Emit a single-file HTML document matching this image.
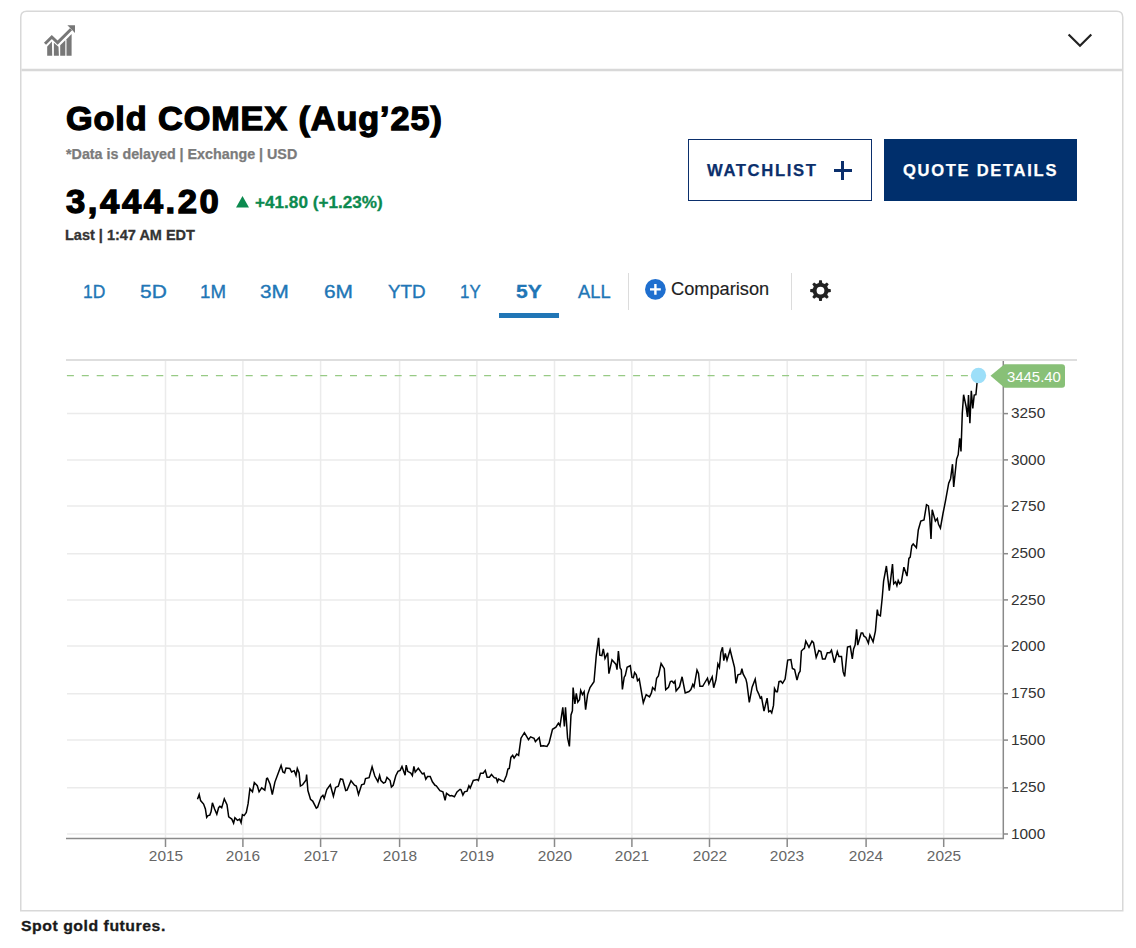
<!DOCTYPE html>
<html><head><meta charset="utf-8"><style>
html,body{margin:0;padding:0;background:#fff;width:1136px;height:948px;overflow:hidden;position:relative;font-family:"Liberation Sans", sans-serif;}
div{box-sizing:border-box;}
</style></head><body>
<svg style="position:absolute;left:0;top:0" width="1136" height="948"><path d="M20.75,910.75 L20.75,17.25 Q20.75,11.25 26.75,11.25 L1116.75,11.25 Q1122.75,11.25 1122.75,17.25 L1122.75,910.75 Z" fill="none" stroke="#d8d8d8" stroke-width="1.5"/><line x1="21.5" y1="70" x2="1122" y2="70" stroke="#d8d8d8" stroke-width="2.5"/></svg>
<svg style="position:absolute;left:0;top:0" width="1136" height="948">
<g fill="#777">
<path d="M47.2,46.5 L51.9,41.5 L52.2,55.7 L47.2,55.7 Z"/>
<path d="M53.9,42.7 L58.5,46.8 L58.9,55.7 L53.9,55.7 Z"/>
<path d="M60.2,45.2 L65.3,40.3 L65.3,55.7 L60.2,55.7 Z"/>
<path d="M66.5,39.3 L71.6,34 L71.6,55.7 L66.5,55.7 Z"/>
<path d="M67.4,25.3 L75,25.3 L75,32.9 Z"/>
</g>
<polyline points="45,43.8 51.8,37 57.6,42.6 71,29.2" fill="none" stroke="#777" stroke-width="3"/>
<polyline points="1068.6,34.5 1080,45.8 1091.3,34.5" fill="none" stroke="#222" stroke-width="2.2"/>
<path d="M236,207.5 L249,207.5 L242.5,196 Z" fill="#0c8a4f"/>
</svg>
<div style="position:absolute;left:688px;top:139px;width:184px;height:62px;border:1.5px solid #0b2f6c;"></div>
<div style="position:absolute;left:834px;top:169px;width:17.5px;height:3px;background:#0b2f6c;"></div>
<div style="position:absolute;left:841.3px;top:161.3px;width:3px;height:18.5px;background:#0b2f6c;"></div>
<div style="position:absolute;left:884px;top:139px;width:193px;height:62px;background:#002f6c;"></div>
<div style="position:absolute;left:499px;top:313px;width:60px;height:4.5px;background:#2176b6;"></div>
<div style="position:absolute;left:628px;top:273px;width:1px;height:37px;background:#dcdcdc;"></div>
<div style="position:absolute;left:791px;top:273px;width:1px;height:37px;background:#dcdcdc;"></div>
<svg style="position:absolute;left:0;top:0" width="1136" height="948">
<circle cx="655.4" cy="289.4" r="10.4" fill="#1f6fcf"/>
<path d="M650,289.4 H660.8 M655.4,284 V294.8" stroke="#fff" stroke-width="2.4"/>
<path fill-rule="evenodd" d="M818.72,282.90 L819.20,280.28 L821.80,280.28 L822.28,282.90 L824.68,283.90 L826.87,282.38 L828.72,284.23 L827.20,286.42 L828.20,288.82 L830.82,289.30 L830.82,291.90 L828.20,292.38 L827.20,294.78 L828.72,296.97 L826.87,298.82 L824.68,297.30 L822.28,298.30 L821.80,300.92 L819.20,300.92 L818.72,298.30 L816.32,297.30 L814.13,298.82 L812.28,296.97 L813.80,294.78 L812.80,292.38 L810.18,291.90 L810.18,289.30 L812.80,288.82 L813.80,286.42 L812.28,284.23 L814.13,282.38 L816.32,283.90Z M824.4,290.6 A3.9,3.9 0 1,0 816.6,290.6 A3.9,3.9 0 1,0 824.4,290.6Z" fill="#222"/>
</svg>
<svg style="position:absolute;left:0;top:0" width="1136" height="948">
<line x1="165.5" y1="361" x2="165.5" y2="838" stroke="#ebebeb" stroke-width="1.5"/>
<line x1="242.9" y1="361" x2="242.9" y2="838" stroke="#ebebeb" stroke-width="1.5"/>
<line x1="320.6" y1="361" x2="320.6" y2="838" stroke="#ebebeb" stroke-width="1.5"/>
<line x1="399.6" y1="361" x2="399.6" y2="838" stroke="#ebebeb" stroke-width="1.5"/>
<line x1="476.9" y1="361" x2="476.9" y2="838" stroke="#ebebeb" stroke-width="1.5"/>
<line x1="554.5" y1="361" x2="554.5" y2="838" stroke="#ebebeb" stroke-width="1.5"/>
<line x1="631.9" y1="361" x2="631.9" y2="838" stroke="#ebebeb" stroke-width="1.5"/>
<line x1="709.5" y1="361" x2="709.5" y2="838" stroke="#ebebeb" stroke-width="1.5"/>
<line x1="787.2" y1="361" x2="787.2" y2="838" stroke="#ebebeb" stroke-width="1.5"/>
<line x1="866.1" y1="361" x2="866.1" y2="838" stroke="#ebebeb" stroke-width="1.5"/>
<line x1="943.7" y1="361" x2="943.7" y2="838" stroke="#ebebeb" stroke-width="1.5"/>
<line x1="67" y1="413.6" x2="1002" y2="413.6" stroke="#ebebeb" stroke-width="1.5"/>
<line x1="67" y1="459.9" x2="1002" y2="459.9" stroke="#ebebeb" stroke-width="1.5"/>
<line x1="67" y1="506.1" x2="1002" y2="506.1" stroke="#ebebeb" stroke-width="1.5"/>
<line x1="67" y1="553.7" x2="1002" y2="553.7" stroke="#ebebeb" stroke-width="1.5"/>
<line x1="67" y1="599.9" x2="1002" y2="599.9" stroke="#ebebeb" stroke-width="1.5"/>
<line x1="67" y1="646.1" x2="1002" y2="646.1" stroke="#ebebeb" stroke-width="1.5"/>
<line x1="67" y1="693.7" x2="1002" y2="693.7" stroke="#ebebeb" stroke-width="1.5"/>
<line x1="67" y1="740.1" x2="1002" y2="740.1" stroke="#ebebeb" stroke-width="1.5"/>
<line x1="67" y1="787.8" x2="1002" y2="787.8" stroke="#ebebeb" stroke-width="1.5"/>
<line x1="67" y1="834" x2="1002" y2="834" stroke="#ebebeb" stroke-width="1.5"/>
<line x1="66" y1="360" x2="1077" y2="360" stroke="#dedede" stroke-width="2"/>
<line x1="66" y1="375.6" x2="972" y2="375.6" stroke="#97ca85" stroke-width="1.3" stroke-dasharray="7 7.9" stroke-dashoffset="-0.9"/>
<line x1="1003.3" y1="361" x2="1003.3" y2="839" stroke="#8a8a8a" stroke-width="1.5"/>
<line x1="66" y1="838.5" x2="1004" y2="838.5" stroke="#8a8a8a" stroke-width="1.5"/>
<line x1="1003" y1="413.6" x2="1008" y2="413.6" stroke="#8a8a8a" stroke-width="1.5"/>
<line x1="1003" y1="459.9" x2="1008" y2="459.9" stroke="#8a8a8a" stroke-width="1.5"/>
<line x1="1003" y1="506.1" x2="1008" y2="506.1" stroke="#8a8a8a" stroke-width="1.5"/>
<line x1="1003" y1="553.7" x2="1008" y2="553.7" stroke="#8a8a8a" stroke-width="1.5"/>
<line x1="1003" y1="599.9" x2="1008" y2="599.9" stroke="#8a8a8a" stroke-width="1.5"/>
<line x1="1003" y1="646.1" x2="1008" y2="646.1" stroke="#8a8a8a" stroke-width="1.5"/>
<line x1="1003" y1="693.7" x2="1008" y2="693.7" stroke="#8a8a8a" stroke-width="1.5"/>
<line x1="1003" y1="740.1" x2="1008" y2="740.1" stroke="#8a8a8a" stroke-width="1.5"/>
<line x1="1003" y1="787.8" x2="1008" y2="787.8" stroke="#8a8a8a" stroke-width="1.5"/>
<line x1="1003" y1="834" x2="1008" y2="834" stroke="#8a8a8a" stroke-width="1.5"/>
<line x1="165.5" y1="838" x2="165.5" y2="847" stroke="#8a8a8a" stroke-width="1.5"/>
<line x1="242.9" y1="838" x2="242.9" y2="847" stroke="#8a8a8a" stroke-width="1.5"/>
<line x1="320.6" y1="838" x2="320.6" y2="847" stroke="#8a8a8a" stroke-width="1.5"/>
<line x1="399.6" y1="838" x2="399.6" y2="847" stroke="#8a8a8a" stroke-width="1.5"/>
<line x1="476.9" y1="838" x2="476.9" y2="847" stroke="#8a8a8a" stroke-width="1.5"/>
<line x1="554.5" y1="838" x2="554.5" y2="847" stroke="#8a8a8a" stroke-width="1.5"/>
<line x1="631.9" y1="838" x2="631.9" y2="847" stroke="#8a8a8a" stroke-width="1.5"/>
<line x1="709.5" y1="838" x2="709.5" y2="847" stroke="#8a8a8a" stroke-width="1.5"/>
<line x1="787.2" y1="838" x2="787.2" y2="847" stroke="#8a8a8a" stroke-width="1.5"/>
<line x1="866.1" y1="838" x2="866.1" y2="847" stroke="#8a8a8a" stroke-width="1.5"/>
<line x1="943.7" y1="838" x2="943.7" y2="847" stroke="#8a8a8a" stroke-width="1.5"/>
<path d="M197.5,799.3 L199.2,794.5 L200.6,800.6 L203.6,804.1 L205.4,809.0 L206.7,817.3 L208.0,815.6 L209.8,815.1 L211.1,811.6 L212.4,802.8 L214.6,809.0 L216.8,814.3 L218.6,807.7 L219.9,806.3 L221.7,807.7 L224.3,798.9 L227.0,804.6 L228.7,816.9 L231.8,819.1 L233.6,823.1 L234.9,817.8 L237.5,820.4 L239.7,819.1 L241.1,822.6 L242.4,814.7 L244.1,815.6 L246.3,812.5 L248.1,803.7 L249.9,788.7 L252.5,791.8 L254.3,782.6 L257.3,785.7 L259.1,791.8 L261.7,787.9 L264.8,790.1 L266.6,778.6 L267.5,778.2 L270.1,784.3 L272.3,794.5 L274.9,782.1 L278.0,773.8 L281.1,765.4 L282.9,772.0 L284.6,772.9 L286.0,768.0 L289.8,768.5 L291.6,772.0 L294.2,770.7 L296.0,775.5 L297.3,768.5 L299.1,772.9 L300.4,786.1 L302.6,784.8 L306.1,779.9 L306.6,774.6 L307.9,790.5 L310.5,799.3 L312.7,801.1 L316.3,808.1 L317.6,807.2 L321.1,797.1 L322.9,795.3 L324.2,798.4 L326.8,789.6 L330.3,784.8 L333.4,796.2 L335.6,787.4 L338.3,786.1 L340.5,779.0 L342.7,779.5 L345.7,790.5 L347.1,790.1 L351.0,780.8 L354.5,785.2 L356.3,786.1 L358.5,794.5 L361.6,784.8 L364.2,783.9 L365.5,778.6 L369.1,777.7 L372.1,766.7 L374.8,776.0 L377.9,781.7 L379.6,775.5 L380.9,780.5 L383.5,783.1 L385.3,782.3 L387.0,777.4 L390.1,780.5 L391.4,787.1 L393.2,785.3 L395.8,775.7 L398.0,771.3 L400.2,770.4 L402.0,766.4 L405.1,775.2 L406.2,765.1 L407.7,771.3 L410.8,773.0 L412.4,775.7 L413.9,766.4 L415.2,772.1 L418.3,768.2 L422.3,773.9 L424.0,773.0 L425.8,779.2 L427.5,776.5 L430.2,776.5 L432.4,781.8 L435.0,785.3 L436.3,785.8 L439.9,790.6 L442.9,791.9 L445.1,800.3 L446.5,793.3 L450.0,795.9 L451.7,795.5 L454.4,796.8 L457.0,791.9 L460.1,789.3 L461.0,789.7 L462.9,795.0 L464.5,791.9 L467.1,791.1 L468.9,785.8 L470.2,788.0 L473.3,780.5 L477.3,779.6 L478.4,780.5 L480.5,773.2 L483.2,773.2 L485.3,770.4 L487.1,777.3 L489.4,777.3 L491.5,774.5 L494.2,777.7 L496.3,778.2 L497.4,781.8 L498.6,779.1 L501.1,780.4 L503.8,781.8 L506.5,775.2 L507.9,769.1 L509.3,768.4 L510.9,757.4 L512.7,755.3 L514.1,758.1 L516.8,754.0 L518.6,755.3 L521.0,738.2 L524.4,732.7 L528.5,739.6 L530.6,736.8 L534.0,738.2 L535.4,741.6 L539.2,737.5 L540.8,746.1 L543.6,745.7 L547.0,746.4 L549.1,743.0 L552.5,729.3 L555.9,727.2 L558.4,723.1 L560.0,725.8 L562.8,707.3 L564.4,726.5 L565.5,707.3 L567.6,738.2 L569.4,746.4 L571.0,714.9 L572.4,710.8 L573.1,687.6 L574.9,703.9 L576.3,693.4 L577.8,702.1 L579.5,699.8 L580.7,690.5 L582.4,694.6 L584.1,691.7 L585.6,709.7 L587.6,694.6 L590.0,687.6 L594.0,681.8 L596.3,655.2 L598.6,637.8 L599.8,655.2 L601.9,655.7 L603.3,648.8 L605.0,658.6 L607.7,652.8 L608.9,673.7 L612.0,659.8 L616.0,664.4 L617.0,669.7 L618.4,651.1 L620.1,667.9 L621.3,669.7 L622.4,689.4 L624.2,677.2 L625.3,675.5 L627.1,667.3 L630.3,665.6 L631.9,677.2 L633.4,677.8 L634.6,672.6 L636.3,674.9 L637.5,680.7 L639.2,678.9 L643.3,702.7 L646.2,694.6 L649.5,696.9 L651.4,692.9 L652.6,687.6 L654.9,690.0 L656.6,678.4 L658.4,676.0 L661.1,663.5 L664.3,668.7 L665.7,689.6 L668.5,687.2 L670.4,681.5 L671.9,681.1 L673.8,683.0 L675.0,681.1 L676.1,691.0 L679.5,686.8 L682.1,676.8 L685.2,692.9 L689.0,691.5 L690.9,689.6 L692.8,684.4 L694.0,686.8 L697.0,670.1 L698.5,673.5 L699.9,686.3 L702.7,686.3 L704.6,683.0 L707.5,678.2 L708.9,683.9 L712.2,676.8 L713.7,687.7 L716.0,679.6 L717.9,664.0 L719.4,667.3 L720.8,652.6 L722.5,647.3 L723.8,660.6 L725.3,653.5 L727.0,660.2 L730.1,649.7 L732.2,658.3 L734.5,667.3 L736.0,683.4 L737.9,674.9 L740.7,673.9 L741.9,668.7 L743.1,673.9 L745.9,679.2 L746.9,683.4 L749.3,702.4 L752.1,687.2 L755.2,679.2 L756.9,690.1 L758.7,693.8 L760.3,698.1 L761.5,697.0 L764.0,711.2 L767.1,698.1 L768.7,711.8 L770.3,710.7 L771.7,712.8 L773.5,705.4 L774.5,688.6 L776.1,691.7 L777.4,691.7 L779.0,681.7 L780.8,681.2 L782.6,683.3 L785.1,679.1 L787.7,660.1 L790.9,659.6 L792.4,668.5 L794.6,669.6 L797.0,680.1 L798.8,673.3 L800.1,671.2 L801.4,651.1 L803.3,649.0 L804.4,648.5 L805.8,641.1 L809.0,647.4 L812.0,641.1 L813.5,642.7 L816.2,657.4 L818.8,650.6 L820.9,651.6 L822.5,659.0 L825.1,659.0 L827.3,652.7 L829.9,652.7 L831.5,650.1 L834.3,662.7 L837.3,651.6 L838.9,656.4 L841.5,656.4 L843.1,671.7 L844.7,676.4 L847.5,647.0 L850.3,646.3 L852.3,659.0 L853.6,648.9 L855.1,645.1 L856.6,629.2 L857.7,645.1 L861.2,633.0 L862.7,633.0 L864.0,636.2 L865.9,637.5 L868.4,643.2 L869.9,634.9 L873.1,641.9 L875.4,631.1 L877.3,609.6 L878.2,614.7 L880.4,615.9 L882.3,597.0 L883.6,581.1 L886.4,566.0 L889.3,590.6 L892.5,564.1 L893.7,583.7 L895.6,581.8 L896.9,585.6 L898.2,580.5 L899.7,583.7 L901.3,582.4 L903.9,567.2 L907.0,576.1 L908.9,558.4 L910.2,557.1 L911.8,545.7 L913.2,543.9 L916.4,547.7 L918.3,530.0 L920.8,521.1 L924.0,519.9 L926.5,504.7 L928.4,505.9 L929.7,517.3 L931.0,538.9 L932.2,509.7 L935.4,521.1 L937.3,518.6 L938.5,524.3 L940.4,528.1 L943.0,513.5 L945.5,500.9 L948.7,483.2 L950.6,478.7 L952.5,464.2 L953.7,487.0 L956.6,459.1 L958.2,454.7 L959.7,438.2 L961.0,451.5 L962.3,413.2 L963.6,394.7 L966.1,406.5 L967.5,417.0 L968.5,395.1 L969.9,423.2 L971.3,390.9 L972.8,408.4 L974.2,395.1 L975.9,394.7 L977.0,383.3 L978.5,375.5" fill="none" stroke="#000" stroke-width="1.5" stroke-linejoin="miter" stroke-miterlimit="4"/>
<circle cx="978.5" cy="375.5" r="7.7" fill="#9ddff9"/>
<path d="M990.5,375.8 L1004.5,364.2 L1062,364.2 Q1065,364.2 1065,367.2 L1065,384.8 Q1065,387.8 1062,387.8 L1004.5,387.8 Z" fill="#88c077"/>
</svg>
<div style="position:absolute;left:65.76px;top:101.64px;font-size:33.5px;line-height:33.5px;font-weight:bold;color:#000;letter-spacing:0.9px;white-space:pre;transform-origin:0 0;transform:scaleX(1.0213);-webkit-text-stroke:1.3px #000;">Gold COMEX (Aug’25)</div>
<div style="position:absolute;left:65.66px;top:147.15px;font-size:14px;line-height:14px;font-weight:bold;color:#7b7b7b;letter-spacing:0px;white-space:pre;transform-origin:0 0;transform:scaleX(1.0210);-webkit-text-stroke:0.25px #7b7b7b;">*Data is delayed | Exchange | USD</div>
<div style="position:absolute;left:66.33px;top:185.14px;font-size:33.5px;line-height:33.5px;font-weight:bold;color:#000;letter-spacing:2.5px;white-space:pre;transform-origin:0 0;transform:scaleX(1.0334);-webkit-text-stroke:1.3px #000;">3,444.20</div>
<div style="position:absolute;left:254.80px;top:193.53px;font-size:16.5px;line-height:16.5px;font-weight:bold;color:#0c8a4f;letter-spacing:0px;white-space:pre;transform-origin:0 0;transform:scaleX(1.0394);-webkit-text-stroke:0.3px #0c8a4f;">+41.80 (+1.23%)</div>
<div style="position:absolute;left:65.44px;top:227.65px;font-size:14px;line-height:14px;font-weight:bold;color:#333;letter-spacing:0px;white-space:pre;transform-origin:0 0;transform:scaleX(1.0350);-webkit-text-stroke:0.3px #333;">Last | 1:47 AM EDT</div>
<div style="position:absolute;left:707.21px;top:162.03px;font-size:16.5px;line-height:16.5px;font-weight:bold;color:#0b2f6c;letter-spacing:1.6px;white-space:pre;transform-origin:0 0;transform:scaleX(1.0092);-webkit-text-stroke:0.25px #0b2f6c;">WATCHLIST</div>
<div style="position:absolute;left:903.45px;top:162.03px;font-size:16.5px;line-height:16.5px;font-weight:bold;color:#fff;letter-spacing:1.7px;white-space:pre;transform-origin:0 0;transform:scaleX(1.0026);-webkit-text-stroke:0.25px #fff;">QUOTE DETAILS</div>
<div style="position:absolute;left:82.53px;top:282.76px;font-size:18px;line-height:18px;font-weight:normal;color:#2176b6;letter-spacing:0px;white-space:pre;transform-origin:0 0;transform:scaleX(0.9694);-webkit-text-stroke:0.35px #2176b6;">1D</div>
<div style="position:absolute;left:140.49px;top:282.76px;font-size:18px;line-height:18px;font-weight:normal;color:#2176b6;letter-spacing:0px;white-space:pre;transform-origin:0 0;transform:scaleX(1.1632);-webkit-text-stroke:0.35px #2176b6;">5D</div>
<div style="position:absolute;left:200.23px;top:282.76px;font-size:18px;line-height:18px;font-weight:normal;color:#2176b6;letter-spacing:0px;white-space:pre;transform-origin:0 0;transform:scaleX(1.0367);-webkit-text-stroke:0.35px #2176b6;">1M</div>
<div style="position:absolute;left:260.43px;top:282.76px;font-size:18px;line-height:18px;font-weight:normal;color:#2176b6;letter-spacing:0px;white-space:pre;transform-origin:0 0;transform:scaleX(1.1532);-webkit-text-stroke:0.35px #2176b6;">3M</div>
<div style="position:absolute;left:323.56px;top:282.76px;font-size:18px;line-height:18px;font-weight:normal;color:#2176b6;letter-spacing:0px;white-space:pre;transform-origin:0 0;transform:scaleX(1.1606);-webkit-text-stroke:0.35px #2176b6;">6M</div>
<div style="position:absolute;left:387.81px;top:282.76px;font-size:18px;line-height:18px;font-weight:normal;color:#2176b6;letter-spacing:0px;white-space:pre;transform-origin:0 0;transform:scaleX(1.0450);-webkit-text-stroke:0.35px #2176b6;">YTD</div>
<div style="position:absolute;left:459.86px;top:282.76px;font-size:18px;line-height:18px;font-weight:normal;color:#2176b6;letter-spacing:0px;white-space:pre;transform-origin:0 0;transform:scaleX(0.9374);-webkit-text-stroke:0.35px #2176b6;">1Y</div>
<div style="position:absolute;left:515.60px;top:282.76px;font-size:18px;line-height:18px;font-weight:bold;color:#2176b6;letter-spacing:0px;white-space:pre;transform-origin:0 0;transform:scaleX(1.1697);-webkit-text-stroke:0.3px #2176b6;">5Y</div>
<div style="position:absolute;left:577.74px;top:282.76px;font-size:18px;line-height:18px;font-weight:normal;color:#2176b6;letter-spacing:0px;white-space:pre;transform-origin:0 0;transform:scaleX(1.0191);-webkit-text-stroke:0.35px #2176b6;">ALL</div>
<div style="position:absolute;left:671.03px;top:280.69px;font-size:17.5px;line-height:17.5px;font-weight:normal;color:#1e1e1e;letter-spacing:0px;white-space:pre;transform-origin:0 0;transform:scaleX(1.0411);-webkit-text-stroke:0.15px #1e1e1e;">Comparison</div>
<div style="position:absolute;left:1007.30px;top:369.73px;font-size:14.5px;line-height:14.5px;font-weight:normal;color:#fff;letter-spacing:0px;white-space:pre;transform-origin:0 0;transform:scaleX(1.0279);">3445.40</div>
<div style="position:absolute;left:20.69px;top:918.30px;font-size:15px;line-height:15px;font-weight:bold;color:#1a1a1a;letter-spacing:0.5px;white-space:pre;transform-origin:0 0;transform:scaleX(1.0546);-webkit-text-stroke:0.3px #1a1a1a;">Spot gold futures.</div>
<div style="position:absolute;left:1010.55px;top:406.23px;font-size:14.5px;line-height:14.5px;color:#333;white-space:pre;transform-origin:0 0;transform:scaleX(1.061)">3250</div>
<div style="position:absolute;left:1010.55px;top:452.53px;font-size:14.5px;line-height:14.5px;color:#333;white-space:pre;transform-origin:0 0;transform:scaleX(1.061)">3000</div>
<div style="position:absolute;left:1010.55px;top:498.73px;font-size:14.5px;line-height:14.5px;color:#333;white-space:pre;transform-origin:0 0;transform:scaleX(1.061)">2750</div>
<div style="position:absolute;left:1010.55px;top:546.33px;font-size:14.5px;line-height:14.5px;color:#333;white-space:pre;transform-origin:0 0;transform:scaleX(1.061)">2500</div>
<div style="position:absolute;left:1010.55px;top:592.53px;font-size:14.5px;line-height:14.5px;color:#333;white-space:pre;transform-origin:0 0;transform:scaleX(1.061)">2250</div>
<div style="position:absolute;left:1010.55px;top:638.73px;font-size:14.5px;line-height:14.5px;color:#333;white-space:pre;transform-origin:0 0;transform:scaleX(1.061)">2000</div>
<div style="position:absolute;left:1010.55px;top:686.33px;font-size:14.5px;line-height:14.5px;color:#333;white-space:pre;transform-origin:0 0;transform:scaleX(1.061)">1750</div>
<div style="position:absolute;left:1010.55px;top:732.73px;font-size:14.5px;line-height:14.5px;color:#333;white-space:pre;transform-origin:0 0;transform:scaleX(1.061)">1500</div>
<div style="position:absolute;left:1010.55px;top:780.43px;font-size:14.5px;line-height:14.5px;color:#333;white-space:pre;transform-origin:0 0;transform:scaleX(1.061)">1250</div>
<div style="position:absolute;left:1010.55px;top:826.63px;font-size:14.5px;line-height:14.5px;color:#333;white-space:pre;transform-origin:0 0;transform:scaleX(1.061)">1000</div>
<div style="position:absolute;left:125.50px;width:80px;text-align:center;top:849.23px;font-size:14.5px;line-height:14.5px;color:#666;white-space:pre;transform-origin:50% 0;transform:scaleX(1.0632)">2015</div>
<div style="position:absolute;left:202.90px;width:80px;text-align:center;top:849.23px;font-size:14.5px;line-height:14.5px;color:#666;white-space:pre;transform-origin:50% 0;transform:scaleX(1.0632)">2016</div>
<div style="position:absolute;left:280.60px;width:80px;text-align:center;top:849.23px;font-size:14.5px;line-height:14.5px;color:#666;white-space:pre;transform-origin:50% 0;transform:scaleX(1.0632)">2017</div>
<div style="position:absolute;left:359.60px;width:80px;text-align:center;top:849.23px;font-size:14.5px;line-height:14.5px;color:#666;white-space:pre;transform-origin:50% 0;transform:scaleX(1.0632)">2018</div>
<div style="position:absolute;left:436.90px;width:80px;text-align:center;top:849.23px;font-size:14.5px;line-height:14.5px;color:#666;white-space:pre;transform-origin:50% 0;transform:scaleX(1.0632)">2019</div>
<div style="position:absolute;left:514.50px;width:80px;text-align:center;top:849.23px;font-size:14.5px;line-height:14.5px;color:#666;white-space:pre;transform-origin:50% 0;transform:scaleX(1.0632)">2020</div>
<div style="position:absolute;left:591.90px;width:80px;text-align:center;top:849.23px;font-size:14.5px;line-height:14.5px;color:#666;white-space:pre;transform-origin:50% 0;transform:scaleX(1.0632)">2021</div>
<div style="position:absolute;left:669.50px;width:80px;text-align:center;top:849.23px;font-size:14.5px;line-height:14.5px;color:#666;white-space:pre;transform-origin:50% 0;transform:scaleX(1.0632)">2022</div>
<div style="position:absolute;left:747.20px;width:80px;text-align:center;top:849.23px;font-size:14.5px;line-height:14.5px;color:#666;white-space:pre;transform-origin:50% 0;transform:scaleX(1.0632)">2023</div>
<div style="position:absolute;left:826.10px;width:80px;text-align:center;top:849.23px;font-size:14.5px;line-height:14.5px;color:#666;white-space:pre;transform-origin:50% 0;transform:scaleX(1.0632)">2024</div>
<div style="position:absolute;left:903.70px;width:80px;text-align:center;top:849.23px;font-size:14.5px;line-height:14.5px;color:#666;white-space:pre;transform-origin:50% 0;transform:scaleX(1.0632)">2025</div>
</body></html>
